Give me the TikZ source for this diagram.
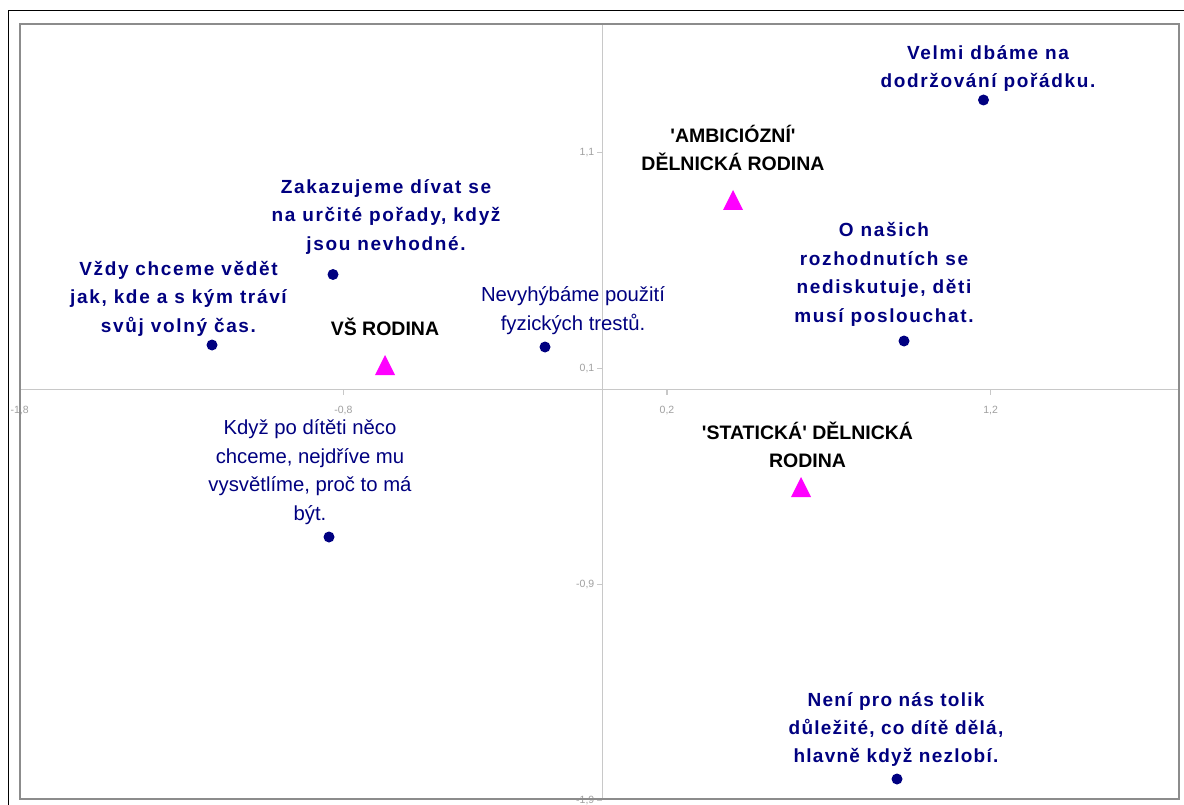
\documentclass[tikz,border=0pt]{standalone}
\usepackage{fontspec}
\setmainfont{Liberation Sans}
\newfontfamily\spbold{Liberation Sans}[LetterSpace=8.7]
\newfontfamily\spboldn{Liberation Sans}[LetterSpace=6.5]
\definecolor{navy}{HTML}{000080}
\definecolor{magentatri}{HTML}{FF00FF}
\definecolor{axisgray}{HTML}{C8C8C8}
\definecolor{ticktext}{HTML}{A0A0A0}
\definecolor{framegray}{HTML}{8C8C8C}
\tikzset{
  pdot/.style={circle, fill=navy, inner sep=0pt, minimum size=11pt},
  navyb/.style={text=navy, align=center, font=\spbold\bfseries\fontsize{19}{28.6}\selectfont, inner sep=0pt},
  navybn/.style={text=navy, align=center, font=\spboldn\bfseries\fontsize{19}{28.2}\selectfont, inner sep=0pt},
  navyr/.style={text=navy, align=center, font=\fontsize{20.3}{28.6}\selectfont, inner sep=0pt},
  blackb/.style={text=black, align=center, font=\bfseries\fontsize{19.5}{28}\selectfont, inner sep=0pt},
  ticklab/.style={text=ticktext, font=\fontsize{10.5}{12}\selectfont, inner sep=0pt},
  axisline/.style={draw=axisgray, line width=1.1pt},
  trimark/.style={fill=magentatri}
}
\newcommand\trimarker[1]{\fill[trimark] (#1) ++(0,-10) -- ++(10,20) -- ++(-20,0) -- cycle;}
\begin{document}
\begin{tikzpicture}[x=1pt,y=-1pt]
\useasboundingbox (0,0) rectangle (1184,805);
\fill[white] (0,0) rectangle (1184,805);
% axes
\coordinate (xl) at (20,389.9);
\coordinate (xr) at (1179,389.9);
\coordinate (yt) at (602.3,24);
\coordinate (yb) at (602.3,799);
\draw[axisline] (xl) -- (xr);
\draw[axisline] (yt) -- (yb);
% x ticks
\foreach \xv/\lab in {19.6/-1{,}8, 343.3/-0{,}8, 667/0{,}2, 990.7/1{,}2}{
  \draw[axisline] (\xv,389.9) -- (\xv,395);
  \node[ticklab] at (\xv,411) {\lab};
}
% y ticks
\foreach \yv/\lab in {152.3/1{,}1, 368.3/0{,}1, 584.3/-0{,}9, 800.3/-1{,}9}{
  \draw[axisline] (597,\yv) -- (602.3,\yv);
  \node[ticklab, anchor=east] at (594.5,\yv) {\lab};
}
% frames
\draw[framegray, line width=2pt] (20,24) rectangle (1179,799);
\draw[black, line width=1.3pt] (8.5,805) -- (8.5,10.5) -- (1184,10.5);
% data points
\node[pdot] (p1) at (983.5,100) {};
\node[navyb] (l1) at (988,68.5) {Velmi dbáme na\\dodržování pořádku.};
\node[pdot] (p2) at (333,274.5) {};
\node[navyb] (l2) at (386,217) {Zakazujeme dívat se\\na určité pořady, když\\jsou nevhodné.};
\node[pdot] (p3) at (212,345) {};
\node[navyb] (l3) at (178.5,298.5) {Vždy chceme vědět\\jak, kde a s kým tráví\\svůj volný čas.};
\node[pdot] (p4) at (545,347) {};
\node[navyr] (l4) at (573,310.5) {Nevyhýbáme použití\\fyzických trestů.};
\node[pdot] (p5) at (904,341) {};
\node[navyb] (l5) at (884,274.5) {O našich\\rozhodnutích se\\nediskutuje, děti\\musí poslouchat.};
\node[pdot] (p6) at (329,537) {};
\node[navyr] (l6) at (310,472) {Když po dítěti něco\\chceme, nejdříve mu\\vysvětlíme, proč to má\\být.};
\node[pdot] (p7) at (897,779) {};
\node[navybn] (l7) at (896,729.5) {Není pro nás tolik\\důležité, co dítě dělá,\\hlavně když nezlobí.};
% groups
\coordinate (t1) at (733,200);
\trimarker{t1}
\node[blackb] (g1) at (733,148) {\textquotesingle AMBICIÓZNÍ\textquotesingle\\DĚLNICKÁ RODINA};
\coordinate (t2) at (385,365);
\trimarker{t2}
\node[blackb] (g2) at (385,327) {VŠ RODINA};
\coordinate (t3) at (801,487);
\trimarker{t3}
\node[blackb] (g3) at (807.5,444.5) {\textquotesingle STATICKÁ\textquotesingle{} DĚLNICKÁ\\RODINA};
\end{tikzpicture}
\end{document}
